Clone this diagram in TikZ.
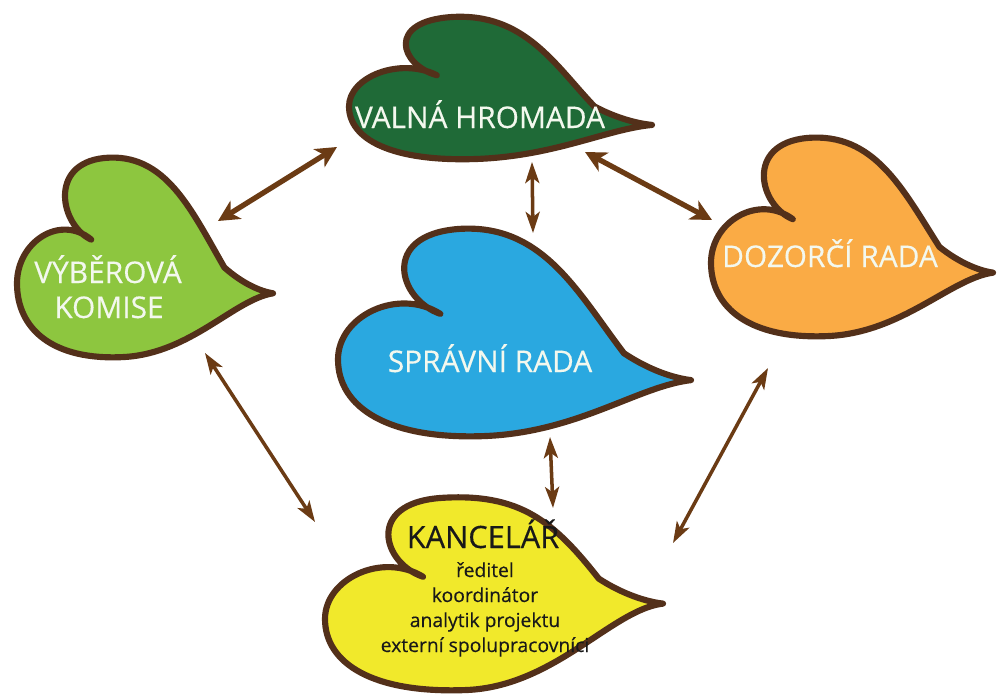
\documentclass[tikz,border=0pt]{standalone}
\usepackage{fontspec}
\setmainfont{Open Sans}
\newfontfamily\lblfont[FakeBold=0.35]{Open Sans}
\usetikzlibrary{arrows.meta}
\definecolor{vhgreen}{HTML}{1F6A37}
\definecolor{vkgreen}{HTML}{8DC63F}
\definecolor{drorange}{HTML}{FAAB45}
\definecolor{srblue}{HTML}{2AA8E0}
\definecolor{kayellow}{HTML}{F1E92B}
\definecolor{outl}{HTML}{53301A}
\definecolor{arrbrown}{HTML}{6B3B14}
\definecolor{lbl}{HTML}{F3F8EE}
\newcommand\leafshape[6]{%
  \begin{scope}[shift={(#1,#2)},xscale=#3,yscale=#4]
    \path[leafline,fill=#6] (0.29,0.41)
      .. controls (0.17,0.34) and (0.12,0.03) .. (0.34,0.0)
      .. controls (0.58,-0.03) and (0.68,#5-0.42) .. (0.81,#5-0.13)
      .. controls (0.88,#5-0.05) and (0.95,#5-0.01) .. (1,#5)
      .. controls (0.85,#5+0.03) and (0.68,0.98) .. (0.42,1.0)
      .. controls (0.14,1.02) and (0.0,0.86) .. (0,0.63)
      .. controls (0,0.42) and (0.17,0.28) .. (0.29,0.41) -- cycle;
  \end{scope}}
\begin{document}
\begin{tikzpicture}[x=0.02cm,y=-0.02cm,
  leafline/.style={draw=outl,line width=3.5pt,line join=round},
  biglabel/.style={text=lbl,font=\lblfont\fontsize{17}{20}\selectfont,anchor=base,inner sep=0pt},
  kattl/.style={text=black!90,font=\lblfont\fontsize{17.5}{20}\selectfont,anchor=base,inner sep=0pt},
  kaline/.style={text=black!90,font=\lblfont\fontsize{11}{14}\selectfont,anchor=base,inner sep=0pt},
  thickarr/.style={draw=arrbrown,line width=3pt,
    {Stealth[length=12pt,width=12pt,inset=3.5pt]}-{Stealth[length=12pt,width=12pt,inset=3.5pt]}},
  thinarr/.style={draw=arrbrown,line width=2pt,
    {Stealth[length=12pt,width=8pt,inset=3pt]}-{Stealth[length=12pt,width=8pt,inset=3pt]}},
]
\fill[white] (0,0) rectangle (997,693);
\useasboundingbox (0,0) rectangle (997,693);

% leaves
\leafshape{349}{17}{303}{142}{0.76}{vhgreen}
\leafshape{17}{158}{256}{199}{0.68}{vkgreen}
\leafshape{711}{138}{282}{198}{0.68}{drorange}
\leafshape{338}{229}{353}{207}{0.73}{srblue}
\leafshape{325}{498}{338}{192}{0.55}{kayellow}

% labels
\node[biglabel] (vh) at (480,128) {VALNÁ HROMADA};
\node[biglabel] (vk1) at (108,283) {VÝBĚROVÁ};
\node[biglabel] (vk2) at (109,318) {KOMISE};
\node[biglabel] (dr) at (830,267) {DOZORČÍ RADA};
\node[biglabel] (sr) at (490,372) {SPRÁVNÍ RADA};
\node[kattl] (ka) at (483,548) {KANCELÁŘ};
\node[kaline] (ka1) at (485,577) {ředitel};
\node[kaline] (ka2) at (485,602) {koordinátor};
\node[kaline] (ka3) at (485,627) {analytik projektu};
\node[kaline] (ka4) at (485,652) {externí spolupracovníci};

% arrow ends
\coordinate (a1s) at (218,221); \coordinate (a1e) at (337,147);
\coordinate (a2s) at (532,162); \coordinate (a2e) at (533,233);
\coordinate (a3s) at (585,152); \coordinate (a3e) at (712,220);
\coordinate (a4s) at (205,353); \coordinate (a4e) at (315,522);
\coordinate (a5s) at (550,437); \coordinate (a5e) at (553,508);
\coordinate (a6s) at (768,368); \coordinate (a6e) at (673,543);

\draw[thickarr] (a1s) -- (a1e);
\draw[thinarr] (a2s) -- (a2e);
\draw[thickarr] (a3s) -- (a3e);
\draw[thinarr] (a4s) -- (a4e);
\draw[thinarr] (a5s) -- (a5e);
\draw[thinarr] (a6s) -- (a6e);
\end{tikzpicture}
\end{document}
